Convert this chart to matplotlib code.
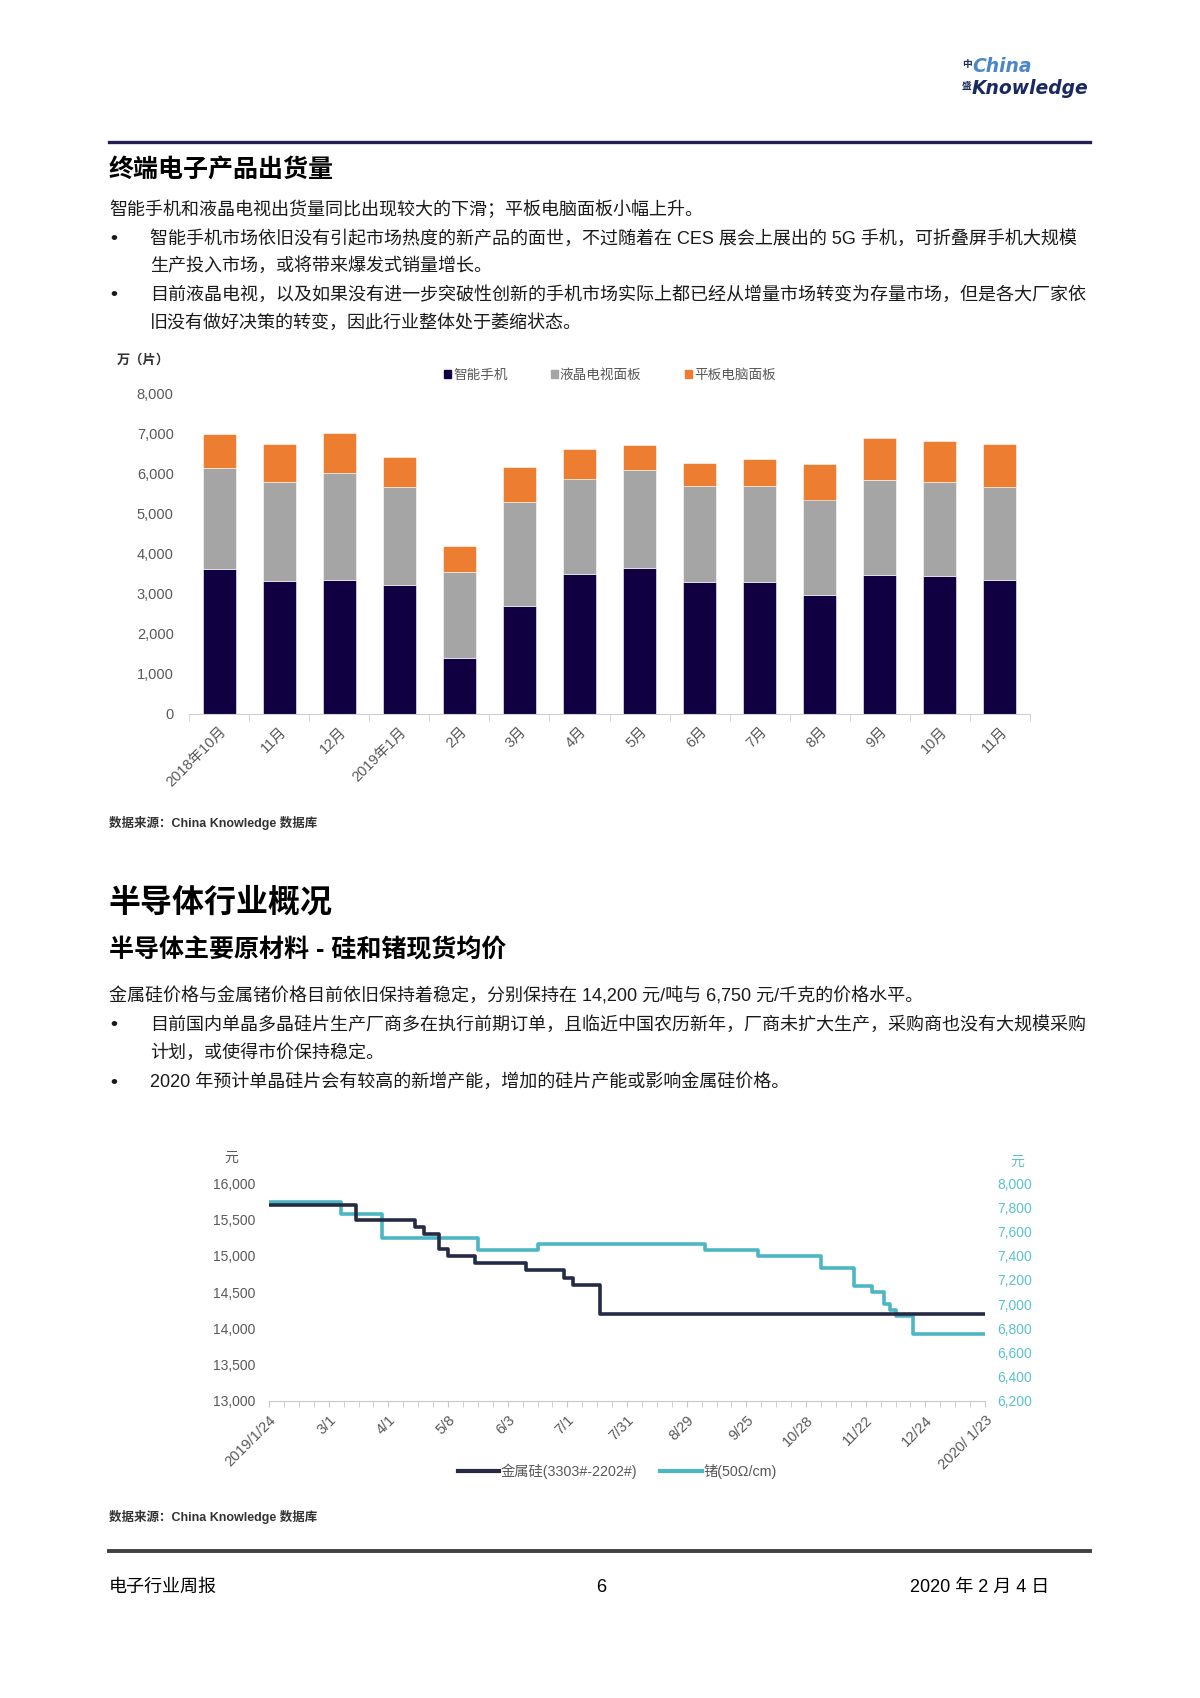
import matplotlib
matplotlib.use('Agg')
import matplotlib.pyplot as plt
from matplotlib import font_manager
from matplotlib.patches import Patch
from matplotlib.lines import Line2D
import numpy as np

# 终端电子产品出货量（万片）
months = ['2018年10月', '11月', '12月', '2019年1月', '2月', '3月', '4月',
          '5月', '6月', '7月', '8月', '9月', '10月', '11月']
phone = [3610, 3320, 3340, 3210, 1400, 2690, 3490, 3650, 3300, 3290, 2960, 3460, 3440, 3340]
lcd_tv = [2530, 2470, 2670, 2450, 2150, 2590, 2370, 2450, 2380, 2390, 2390, 2380, 2360, 2320]
tablet = [860, 960, 990, 740, 650, 890, 760, 610, 570, 670, 900, 1050, 1010, 1070]
bar_names = ['智能手机', '液晶电视面板', '平板电脑面板']

# 硅和锗现货均价（交易日序号, 元）
day_labels = ['2019/1/24', '3/1', '4/1', '5/8', '6/3', '7/1', '7/31',
              '8/29', '9/25', '10/28', '11/22', '12/24', '2020/ 1/23']
si_days = [0, 29, 49, 52, 57, 60, 69, 86, 99, 102, 111, 240]
si_price = [15700, 15500, 15400, 15300, 15100, 15000, 14900, 14800, 14700, 14600, 14200, 14200]
ge_days = [0, 24, 38, 70, 90, 146, 164, 185, 196, 202, 206, 208, 210, 216, 240]
ge_price = [7850, 7750, 7550, 7450, 7500, 7450, 7400, 7300, 7150, 7100, 7000, 6950, 6900, 6750, 6750]
line_names = ['金属硅(3303#-2202#)', '锗(50Ω/cm)']

W, H = 1200, 1698
CJK = ['Liberation Sans', 'Noto Sans CJK SC', 'DejaVu Sans']
plt.rcParams['font.family'] = CJK

installed = {f.name for f in font_manager.fontManager.ttflist}
if 'Liberation Sans Narrow' in installed:
    logo_font, logo_size = ['Liberation Sans Narrow', 'DejaVu Sans'], 18.5
else:
    logo_font, logo_size = ['DejaVu Sans'], 13.5

NAVY = '#100042'
GRAY_TXT = '#595959'


def fx(x):
    return x / W


def fy(y):
    return 1 - y / H


def put(x, y, s, **kw):
    kw.setdefault('va', 'center')
    kw.setdefault('color', '#1a1a1a')
    return fig.text(fx(x), fy(y), s, **kw)


fig = plt.figure(figsize=(W / 100, H / 100), dpi=100)

# 页眉 logo 和分隔线
put(962, 64, '中', fontsize=7, color='#1b2a5e', weight='bold')
put(962, 86, '盛', fontsize=7, color='#1b2a5e', weight='bold')
put(972, 67, 'China', family=logo_font, fontsize=logo_size, style='italic',
    weight='bold', color='#4a86c8')
put(972, 88, 'Knowledge', family=logo_font, fontsize=logo_size, style='italic',
    weight='bold', color='#1b2a5e')
fig.add_artist(Line2D([fx(109), fx(1090)], [fy(142), fy(142)], color='#231f52', lw=2.4))

# 第一部分文字
body = 13
put(109, 169.5, '终端电子产品出货量', fontsize=18, weight='bold', color='black')
put(109, 210, '智能手机和液晶电视出货量同比出现较大的下滑；平板电脑面板小幅上升。', fontsize=body)
put(110, 238.5, '•', fontsize=14, weight='bold')
put(150, 238.5, '智能手机市场依旧没有引起市场热度的新产品的面世，不过随着在 CES 展会上展出的 5G 手机，可折叠屏手机大规模', fontsize=body)
put(150, 265.5, '生产投入市场，或将带来爆发式销量增长。', fontsize=body)
put(110, 294.5, '•', fontsize=14, weight='bold')
put(150, 294.5, '目前液晶电视，以及如果没有进一步突破性创新的手机市场实际上都已经从增量市场转变为存量市场，但是各大厂家依', fontsize=body)
put(150, 322.5, '旧没有做好决策的转变，因此行业整体处于萎缩状态。', fontsize=body)

# 柱状图
ax1 = fig.add_axes([fx(189), fy(713.5), (1030 - 189) / W, (713.5 - 393.5) / H])
x = np.arange(len(months))
b1 = np.array(phone)
b2 = b1 + np.array(lcd_tv)
colors = [NAVY, '#a5a5a5', '#ed7d31']
ax1.bar(x, phone, width=0.55, color=colors[0], edgecolor='white', linewidth=0.4)
ax1.bar(x, lcd_tv, width=0.55, bottom=b1, color=colors[1], edgecolor='white', linewidth=0.4)
ax1.bar(x, tablet, width=0.55, bottom=b2, color=colors[2], edgecolor='white', linewidth=0.4)
ax1.set_xlim(-0.5, len(months) - 0.5)
ax1.set_ylim(0, 8000)
ax1.set_yticks(range(0, 8001, 1000))
ax1.set_yticklabels([f'{v:,}' for v in range(0, 8001, 1000)])
ax1.set_xticks(x)
ax1.set_xticklabels(months, rotation=45, ha='right', rotation_mode='anchor')
ax1.set_xticks(np.arange(-0.5, len(months), 1), minor=True)
ax1.tick_params(axis='y', length=0, pad=11, labelsize=10.5, labelcolor=GRAY_TXT)
ax1.tick_params(axis='x', which='major', length=0, pad=8, labelsize=10.5, labelcolor=GRAY_TXT)
ax1.tick_params(axis='x', which='minor', length=5, color='#d0d0d0')
for s in ['top', 'left', 'right']:
    ax1.spines[s].set_visible(False)
ax1.spines['bottom'].set_color('#d0d0d0')
put(117, 360, '万（片）', fontsize=9.5, color='#333333', weight='bold')
fig.legend([Patch(color=c) for c in colors], bar_names, loc='center', ncol=3,
           bbox_to_anchor=(fx(610), fy(375)), frameon=False, fontsize=9.8,
           handlelength=0.5, handleheight=0.5, handletextpad=0.15, columnspacing=3.2,
           labelcolor=GRAY_TXT)
put(109, 822.5, '数据来源：China Knowledge 数据库', fontsize=9, weight='bold', color='#333333')

# 第二部分文字
put(109, 903, '半导体行业概况', fontsize=23, weight='bold', color='black')
put(109, 950, '半导体主要原材料 - 硅和锗现货均价', fontsize=18, weight='bold', color='black')
put(109, 996.5, '金属硅价格与金属锗价格目前依旧保持着稳定，分别保持在 14,200 元/吨与 6,750 元/千克的价格水平。', fontsize=body)
put(110, 1024.5, '•', fontsize=14, weight='bold')
put(150, 1024.5, '目前国内单晶多晶硅片生产厂商多在执行前期订单，且临近中国农历新年，厂商未扩大生产，采购商也没有大规模采购', fontsize=body)
put(150, 1052.5, '计划，或使得市价保持稳定。', fontsize=body)
put(110, 1082, '•', fontsize=14, weight='bold')
put(150, 1082, '2020 年预计单晶硅片会有较高的新增产能，增加的硅片产能或影响金属硅价格。', fontsize=body)

# 折线图
ax2 = fig.add_axes([fx(269), fy(1400.5), (985 - 269) / W, (1400.5 - 1183.5) / H])
ax2r = ax2.twinx()
SI_C, GE_C = '#262b45', '#4db6c3'
ax2.step(si_days, si_price, where='post', color=SI_C, lw=2.6, zorder=3)
ax2r.step(ge_days, ge_price, where='post', color=GE_C, lw=2.6)
ax2.set_zorder(ax2r.get_zorder() + 1)
ax2.patch.set_visible(False)
ax2.set_xlim(0, 240)
ax2.set_ylim(13000, 16000)
ax2r.set_ylim(6200, 8000)
ax2.set_yticks(range(13000, 16001, 500))
ax2.set_yticklabels([f'{v:,}' for v in range(13000, 16001, 500)])
ax2r.set_yticks(range(6200, 8001, 200))
ax2r.set_yticklabels([f'{v:,}' for v in range(6200, 8001, 200)])
ax2.set_xticks(range(0, 241, 20))
ax2.set_xticklabels(day_labels, rotation=45, ha='right', rotation_mode='anchor')
ax2.set_xticks(range(0, 241, 5), minor=True)
ax2.get_xticklabels()[-1].set_color('#333333')
ax2.tick_params(axis='y', length=0, pad=10, labelsize=10, labelcolor=GRAY_TXT)
ax2r.tick_params(axis='y', length=0, pad=9, labelsize=10, labelcolor='#5bc2ce')
ax2.tick_params(axis='x', which='both', length=4, color='#c8c8c8', pad=5,
                labelsize=10.5, labelcolor=GRAY_TXT)
for a in (ax2, ax2r):
    for s in ['top', 'left', 'right']:
        a.spines[s].set_visible(False)
ax2r.spines['bottom'].set_visible(False)
ax2.spines['bottom'].set_color('#c8c8c8')
put(231, 1157.5, '元', fontsize=10, color=GRAY_TXT, ha='center')
put(1017, 1162, '元', fontsize=10, color='#5bc2ce', ha='center')
fig.legend([Line2D([], [], color=SI_C, lw=3), Line2D([], [], color=GE_C, lw=3)],
           line_names, loc='center', ncol=2, bbox_to_anchor=(fx(617), fy(1471)),
           frameon=False, fontsize=10.3, handlelength=2.9, handletextpad=0.1,
           columnspacing=1.6, labelcolor=GRAY_TXT)
put(109, 1517, '数据来源：China Knowledge 数据库', fontsize=9, weight='bold', color='#333333')

# 页脚
fig.add_artist(Line2D([fx(109), fx(1090)], [fy(1550.5), fy(1550.5)], color='#404040', lw=2.8))
put(109, 1587, '电子行业周报', fontsize=13, color='black')
put(601, 1587, '6', fontsize=13, color='black', ha='center')
put(1049, 1587, '2020 年 2 月 4 日', fontsize=13, color='black', ha='right')

fig.savefig('out.png', dpi=100)
